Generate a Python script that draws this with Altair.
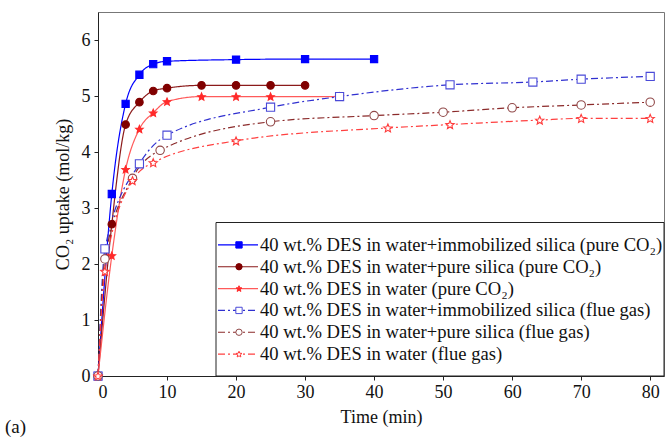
import altair as alt
import numpy as np
import pandas as pd

# Series names (legend order)
names = [
    "40 wt.% DES in water+immobilized silica (pure CO₂)",
    "40 wt.% DES in water+pure silica (pure CO₂)",
    "40 wt.% DES in water (pure CO₂)",
    "40 wt.% DES in water+immobilized silica (flue gas)",
    "40 wt.% DES in water+pure silica (flue gas)",
    "40 wt.% DES in water (flue gas)",
]

# Time (min) and CO2 uptake (mol/kg) per series
t1 = [0, 2, 4, 6, 8, 10, 20, 30, 40]
y1 = [0, 3.25, 4.86, 5.38, 5.57, 5.62, 5.65, 5.66, 5.66]

t2 = [0, 2, 4, 6, 8, 10, 15, 20, 25, 30]
y2 = [0, 2.71, 4.49, 4.89, 5.09, 5.14, 5.19, 5.19, 5.19, 5.19]

t3 = [0, 2, 4, 6, 8, 10, 15, 20, 25, 35]
y3 = [0, 2.15, 3.69, 4.41, 4.70, 4.90, 4.99, 4.99, 4.99, 4.99]

t4 = [0, 1, 6, 10, 25, 35, 51, 63, 70, 80]
y4 = [0, 2.27, 3.79, 4.30, 4.80, 4.99, 5.20, 5.25, 5.30, 5.35]

t5 = [0, 1, 5, 9, 25, 40, 50, 60, 70, 80]
y5 = [0, 2.09, 3.53, 4.03, 4.54, 4.65, 4.71, 4.79, 4.84, 4.89]

t6 = [0, 1, 5, 8, 20, 42, 51, 64, 70, 80]
y6 = [0, 1.87, 3.49, 3.81, 4.20, 4.43, 4.49, 4.57, 4.60, 4.60]

times = [t1, t2, t3, t4, t5, t6]
uptakes = [y1, y2, y3, y4, y5, y6]

rows = []
for name, ts, ys in zip(names, times, uptakes):
    for t, y in zip(ts, ys):
        rows.append({"series": name, "time": t, "uptake": y})
df = pd.DataFrame(rows)


def star_path(inner=0.45):
    pts = []
    for k in range(10):
        a = np.deg2rad(-90 + 36 * k)
        r = 1.0 if k % 2 == 0 else inner
        pts.append(f"{r * np.cos(a):.3f},{r * np.sin(a) + 0.1:.3f}")
    return "M" + "L".join(pts) + "Z"


STAR = star_path()
FONT = "Liberation Serif"

line_colors = ["#0000FF", "#8B1A1A", "#FF5A5A", "#3030D0", "#8B2A2A", "#FF4040"]
marker_stroke = ["#0000FF", "#800000", "#FF2A2A", "#4A4AD8", "#904848", "#FF3A3A"]
marker_fill = ["#0000FF", "#800000", "#FF2A2A", "white", "white", "white"]
shapes = ["square", "circle", STAR, "square", "circle", STAR]
sizes = [52, 76, 115, 52, 68, 105]
dashes = [[1, 0], [1, 0], [1, 0], [7, 3, 2, 3], [7, 3, 2, 3], [7, 3, 2, 3]]

color_scale = alt.Scale(domain=names, range=line_colors)
stroke_scale = alt.Scale(domain=names, range=marker_stroke)
fill_scale = alt.Scale(domain=names, range=marker_fill)
shape_scale = alt.Scale(domain=names, range=shapes)
size_scale = alt.Scale(domain=names, range=sizes)
dash_scale = alt.Scale(domain=names, range=dashes)

x_enc = alt.X(
    "time:Q",
    scale=alt.Scale(domain=[0, 82], nice=False, zero=False),
    axis=alt.Axis(
        title="Time (min)",
        values=list(range(0, 81, 5)),
        labelExpr="datum.value % 10 === 0 ? format(datum.value, 'd') : ''",
        tickSize={"condition": {"test": "datum.value % 10 === 0", "value": 4}, "value": 2.5},
        labelPadding=3,
        titlePadding=7,
    ),
)
y_enc = alt.Y(
    "uptake:Q",
    scale=alt.Scale(domain=[0, 6.5], nice=False),
    axis=alt.Axis(
        title="CO₂ uptake (mol/kg)",
        values=[i * 0.5 for i in range(13)],
        labelExpr="datum.value % 1 === 0 ? format(datum.value, 'd') : ''",
        tickSize={"condition": {"test": "datum.value % 1 === 0", "value": 4}, "value": 2.5},
        labelPadding=4,
        titlePadding=9,
    ),
)

lines = alt.Chart(df).mark_line(interpolate="monotone", strokeWidth=1.2).encode(
    x=x_enc,
    y=y_enc,
    color=alt.Color("series:N", scale=color_scale, legend=None),
    strokeDash=alt.StrokeDash("series:N", scale=dash_scale, legend=None),
    detail="series:N",
)

points = alt.Chart(df).mark_point(filled=True, strokeWidth=1.1, opacity=1).encode(
    x="time:Q",
    y="uptake:Q",
    shape=alt.Shape("series:N", scale=shape_scale, legend=None),
    fill=alt.Fill("series:N", scale=fill_scale, legend=None),
    stroke=alt.Stroke("series:N", scale=stroke_scale, legend=None),
    size=alt.Size("series:N", scale=size_scale, legend=None),
)

main = alt.layer(lines, points)

# Legend drawn inside the plot area, lower right
leg_df = pd.DataFrame({"series": names})
leg_y = alt.Y("series:N", scale=alt.Scale(domain=names, range=[222, 353]), axis=None)

box = alt.Chart(pd.DataFrame({"k": [0]})).mark_rect(
    fill="white", stroke="#222", strokeWidth=1
).encode(x=alt.value(118), x2=alt.value(566), y=alt.value(210.5), y2=alt.value(364))

leg_line = alt.Chart(leg_df).mark_rule(strokeWidth=1.1).encode(
    x=alt.value(120),
    x2=alt.value(160),
    y=leg_y,
    color=alt.Color("series:N", scale=color_scale, legend=None),
    strokeDash=alt.StrokeDash("series:N", scale=dash_scale, legend=None),
)
leg_pts = alt.Chart(leg_df).mark_point(filled=True, strokeWidth=1, opacity=1).encode(
    x=alt.value(141),
    y=leg_y,
    shape=alt.Shape("series:N", scale=shape_scale, legend=None),
    fill=alt.Fill("series:N", scale=fill_scale, legend=None),
    stroke=alt.Stroke("series:N", scale=stroke_scale, legend=None),
    size=alt.value(40),
)
leg_txt = alt.Chart(leg_df).mark_text(
    align="left", baseline="middle", font=FONT, fontSize=18.6, color="#111"
).encode(x=alt.value(162), y=leg_y, text="series:N")

panel = alt.Chart(pd.DataFrame({"lab": ["(a)"]})).mark_text(
    align="left", baseline="alphabetic", font=FONT, fontSize=19, color="#111"
).encode(x=alt.value(-93), y=alt.value(421), text="lab:N")

legend = alt.layer(box, leg_line, leg_pts, leg_txt, panel)

chart = (
    alt.layer(main, legend)
    .resolve_scale(y="independent")
    .properties(
        width=566,
        height=364,
        autosize=alt.AutoSizeParams(type="none"),
        padding={"left": 98, "top": 12, "right": 1, "bottom": 61},
        background="white",
    )
    .configure_view(stroke="#777", strokeWidth=1)
    .configure_axis(
        grid=False,
        domainColor="#222",
        tickColor="#222",
        labelFont=FONT,
        labelFontSize=18,
        labelColor="#111",
        titleFont=FONT,
        titleFontSize=18,
        titleFontWeight="normal",
        titleColor="#111",
    )
)

chart.save("out.html", embed_options={"renderer": "svg", "actions": False})
